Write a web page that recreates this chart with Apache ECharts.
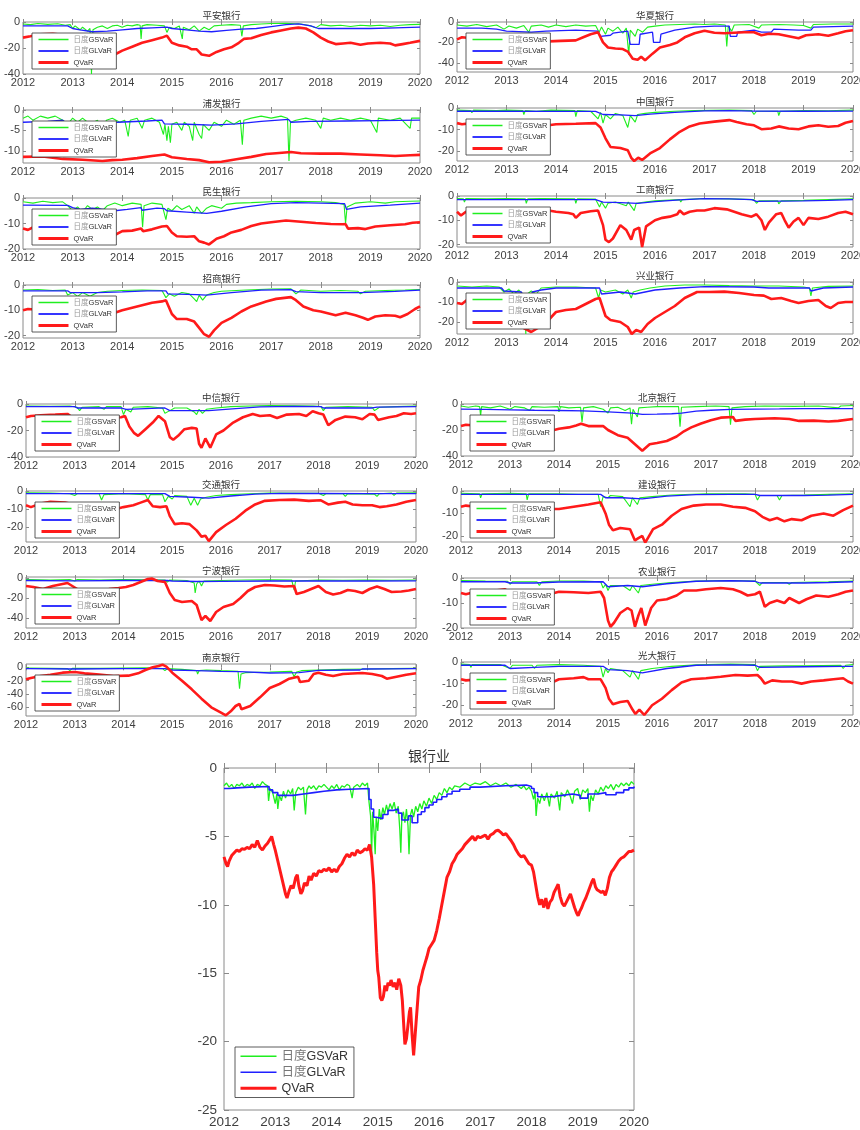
<!DOCTYPE html>
<html><head><meta charset="utf-8">
<script src="https://cdn.jsdelivr.net/npm/echarts@6/dist/echarts.min.js"></script>
<style>html,body{margin:0;padding:0;background:#fff}#c{width:860px;height:1130px}</style>
</head><body><div id="c"></div>
<script>
// ---------------- data (x = year, y = VaR) ----------------
const seriesNames = ['日度GSVaR', '日度GLVaR', 'QVaR'];
const panelNames = ['平安银行','浦发银行','民生银行','招商银行','华夏银行','中国银行','工商银行','兴业银行','中信银行','交通银行','宁波银行','南京银行','北京银行','建设银行','农业银行','光大银行','银行业'];
const yearTicks = [2012,2013,2014,2015,2016,2017,2018,2019,2020];
const yLimits = [[-40,0],[-13,0],[-20,0],[-21,0],[-49,0],[-24.5,0],[-21,0],[-26,0],[-40,0],[-28.5,0],[-50,1],[-73,5],[-40,0],[-22.7,0],[-20,0],[-24.5,0],[-25,0]];
const yTickLabels = [[0,-20,-40],[0,-5,-10],[0,-10,-20],[0,-10,-20],[0,-20,-40],[0,-10,-20],[0,-10,-20],[0,-10,-20],[0,-20,-40],[0,-10,-20],[0,-20,-40],[0,-20,-40,-60],[0,-20,-40],[0,-10,-20],[0,-10,-20],[0,-10,-20],[0,-5,-10,-15,-20,-25]];

const pinganGS = [2012,-1.5, 2012.15,-2, 2012.3,-1.2, 2012.5,-1.8, 2012.7,-1.3, 2012.85,-2.5, 2012.95,-2, 2013.0,-5, 2013.05,-3, 2013.15,-6, 2013.2,-4, 2013.3,-7, 2013.35,-5, 2013.38,-40, 2013.41,-6, 2013.5,-4, 2013.6,-3, 2013.7,-5, 2013.8,-3, 2013.9,-2.5, 2014.0,-4, 2014.1,-2.5, 2014.2,-3, 2014.3,-2, 2014.36,-2.5, 2014.38,-13, 2014.4,-3, 2014.5,-2, 2014.7,-2.5, 2014.85,-3, 2014.9,-8, 2014.95,-4, 2015.05,-5, 2015.15,-3, 2015.19,-4, 2015.21,-13, 2015.23,-4, 2015.35,-6, 2015.45,-3, 2015.55,-7, 2015.65,-4, 2015.75,-6, 2015.85,-3, 2016.0,-2.5, 2016.2,-2, 2016.38,-2.5, 2016.41,-11, 2016.44,-3, 2016.6,-2, 2016.8,-1.5, 2017.0,-1.2, 2017.3,-1, 2017.6,-1.5, 2017.8,-3, 2017.9,-4.5, 2018.0,-2, 2018.2,-3, 2018.4,-2.5, 2018.6,-3.5, 2018.8,-2.5, 2019.0,-3, 2019.2,-2.5, 2019.4,-3.5, 2019.6,-2.5, 2019.8,-2, 2020,-1.8];
const pinganGL = [2012,-3, 2012.9,-3, 2013.0,-5, 2013.15,-6, 2013.4,-7.5, 2013.7,-7, 2014.0,-6, 2014.3,-5, 2014.6,-4.5, 2014.9,-4, 2015.0,-5, 2015.3,-6, 2015.55,-7, 2015.8,-7.5, 2016.1,-6.5, 2016.4,-5.5, 2016.42,-6.5, 2016.7,-5, 2017.0,-3.5, 2017.3,-2, 2017.55,-1.5, 2017.8,-3, 2017.95,-5, 2018.5,-5, 2019.0,-5, 2019.5,-4.5, 2020,-4];
const pinganQ = [2012,-12, 2012.15,-11, 2012.35,-9.5, 2012.6,-9, 2012.85,-10, 2013.0,-11, 2013.3,-16, 2013.6,-23, 2013.85,-25, 2014.0,-22, 2014.2,-19, 2014.4,-16, 2014.6,-14, 2014.8,-12, 2014.9,-10.5, 2015.0,-16, 2015.15,-18, 2015.3,-19, 2015.4,-21, 2015.5,-21, 2015.6,-25, 2015.75,-26, 2015.9,-23, 2016.05,-21, 2016.2,-19.5, 2016.35,-16, 2016.45,-13, 2016.6,-12.5, 2016.8,-10, 2017.0,-8, 2017.2,-6.5, 2017.4,-5, 2017.55,-4.3, 2017.7,-5, 2017.85,-8, 2018.0,-12, 2018.15,-15, 2018.3,-17, 2018.45,-16.5, 2018.6,-16, 2018.8,-17.5, 2018.95,-16.5, 2019.2,-16, 2019.4,-16.5, 2019.5,-18, 2019.65,-17, 2019.8,-16, 2020,-14.5];

const pufaGS = [2012,-2, 2012.1,-1.5, 2012.2,-2.5, 2012.35,-1.5, 2012.5,-2, 2012.65,-1.5, 2012.8,-2.5, 2012.9,-3.5, 2013.0,-2, 2013.1,-3, 2013.2,-2, 2013.35,-3.5, 2013.5,-2.5, 2013.62,-5, 2013.68,-2.5, 2013.8,-2, 2013.95,-3, 2014.05,-2.5, 2014.12,-6.5, 2014.16,-2.5, 2014.3,-2, 2014.4,-4.5, 2014.45,-2.5, 2014.6,-2, 2014.75,-3, 2014.83,-6, 2014.86,-3.5, 2014.9,-7.5, 2014.93,-4, 2014.97,-8, 2015.0,-3.5, 2015.1,-3, 2015.2,-5, 2015.25,-3, 2015.35,-4, 2015.42,-7.5, 2015.45,-3, 2015.55,-6, 2015.6,-7, 2015.63,-3.5, 2015.75,-5, 2015.85,-3, 2016.0,-4, 2016.1,-2.5, 2016.25,-3.5, 2016.38,-2.5, 2016.42,-8.5, 2016.45,-2.5, 2016.6,-2, 2016.8,-1.5, 2017.0,-2, 2017.2,-1.5, 2017.33,-2, 2017.36,-12.5, 2017.39,-3, 2017.5,-2.5, 2017.7,-2, 2017.9,-2.5, 2018.0,-4.5, 2018.05,-2, 2018.2,-2.5, 2018.4,-2, 2018.6,-2.5, 2018.8,-2, 2019.0,-2.5, 2019.13,-5.5, 2019.16,-2, 2019.4,-2.5, 2019.6,-2, 2019.8,-4.5, 2019.83,-2, 2020,-2];
const pufaGL = [2012,-3, 2012.5,-2.8, 2012.8,-2.5, 2012.85,-3, 2013.5,-3.2, 2013.9,-3, 2014.5,-2.7, 2014.8,-2.5, 2014.85,-3.4, 2015.3,-3.5, 2015.8,-3.7, 2016.3,-3.4, 2016.8,-2.8, 2017.35,-2.3, 2017.4,-3, 2017.8,-2.8, 2018.5,-2.7, 2019.2,-2.6, 2020,-2.5];
const pufaQ = [2012,-11.5, 2012.4,-11.4, 2012.8,-12, 2013.2,-12.2, 2013.6,-12.5, 2013.8,-12.3, 2014.0,-12.2, 2014.3,-11.8, 2014.6,-11.3, 2014.85,-10.9, 2015.0,-11.6, 2015.3,-12, 2015.55,-12.3, 2015.75,-12.8, 2016.0,-12.7, 2016.3,-12.1, 2016.6,-11.5, 2016.9,-10.8, 2017.1,-10.6, 2017.4,-10.3, 2017.6,-10.6, 2018.0,-10.7, 2018.4,-10.7, 2018.8,-10.9, 2019.2,-11.1, 2019.5,-11.3, 2019.8,-11.1, 2020,-11];

const minshengGS = [2012,-1.5, 2012.2,-2, 2012.4,-1.3, 2012.6,-1.8, 2012.8,-1.5, 2012.9,-3, 2013.0,-5, 2013.1,-3.5, 2013.2,-5.5, 2013.3,-3, 2013.4,-4.5, 2013.5,-3.5, 2013.6,-5, 2013.7,-3, 2013.85,-2, 2014.0,-3, 2014.2,-2, 2014.38,-2.5, 2014.41,-11.5, 2014.44,-3, 2014.6,-2, 2014.8,-2.5, 2014.88,-8.5, 2014.92,-4, 2015.0,-5, 2015.1,-3, 2015.2,-4.5, 2015.35,-3, 2015.45,-6, 2015.5,-3.5, 2015.6,-6, 2015.7,-4, 2015.8,-3, 2016.0,-4, 2016.1,-2.5, 2016.3,-2, 2016.6,-1.8, 2017.0,-1.5, 2017.5,-1.3, 2018.0,-1.5, 2018.3,-1.8, 2018.47,-2.5, 2018.5,-10, 2018.53,-3.5, 2018.7,-2, 2019.0,-1.5, 2019.3,-2, 2019.5,-1.5, 2019.8,-1.3, 2020,-1.2];
const minshengGL = [2012,-2.8, 2012.9,-2.9, 2013.0,-3.8, 2013.15,-4.5, 2013.4,-4, 2013.85,-5, 2014.1,-4.5, 2014.38,-3.8, 2014.4,-4.8, 2014.7,-4, 2014.85,-4.2, 2014.9,-5, 2015.3,-5.5, 2015.7,-6, 2016.0,-5.2, 2016.5,-3.5, 2017.0,-2.2, 2017.5,-1.8, 2018.0,-2, 2018.48,-2.2, 2018.52,-4.5, 2018.8,-3.5, 2019.4,-2.8, 2020,-2];
const minshengQ = [2012,-12, 2012.1,-12.5, 2012.2,-11.5, 2012.5,-11.5, 2012.9,-12.5, 2013.3,-13.5, 2013.6,-14, 2013.85,-14.5, 2014.0,-13, 2014.2,-12.8, 2014.38,-12, 2014.42,-13, 2014.6,-12.3, 2014.8,-11.2, 2014.9,-11, 2015.0,-13.5, 2015.1,-15, 2015.3,-15.2, 2015.45,-15, 2015.55,-17, 2015.65,-17.5, 2015.75,-18.2, 2015.9,-16, 2016.05,-15, 2016.2,-13.5, 2016.4,-12.5, 2016.6,-11, 2016.8,-10, 2017.0,-9.5, 2017.3,-8.8, 2017.6,-9.3, 2017.9,-9.8, 2018.2,-10.2, 2018.45,-10.3, 2018.5,-10.2, 2018.55,-12, 2018.75,-11.8, 2018.9,-12.2, 2019.1,-11.2, 2019.4,-10.7, 2019.7,-10.3, 2019.85,-9.7, 2020,-9.5];

const zhaoshangGS = [2012,-2, 2012.3,-1.8, 2012.6,-2.2, 2012.85,-2, 2012.9,-4, 2013.0,-3, 2013.1,-4.5, 2013.2,-3, 2013.35,-4.5, 2013.5,-3, 2013.7,-2.5, 2014.0,-2.2, 2014.4,-2, 2014.8,-2.2, 2014.88,-5, 2014.95,-3.5, 2015.05,-4.5, 2015.2,-3, 2015.35,-3.5, 2015.45,-5.5, 2015.5,-6.6, 2015.55,-4, 2015.62,-6, 2015.7,-4, 2015.85,-3, 2016.0,-2.5, 2016.5,-2, 2017.0,-1.6, 2017.4,-1.5, 2017.5,-3.5, 2017.6,-2, 2018.0,-2.5, 2018.4,-2.2, 2018.75,-2.5, 2018.8,-3.5, 2018.9,-2.5, 2019.3,-2.2, 2019.7,-2, 2020,-1.8];
const zhaoshangGL = [2012,-2.3, 2012.9,-2.3, 2012.95,-3, 2013.5,-3, 2014.0,-2.7, 2014.5,-2.3, 2014.88,-2.3, 2014.92,-3.5, 2015.5,-3.8, 2015.7,-4, 2016.2,-3, 2016.8,-2, 2017.4,-1.8, 2017.5,-2.6, 2018.0,-3, 2018.8,-3, 2019.5,-2.5, 2020,-2];
const zhaoshangQ = [2012,-10, 2012.1,-9.5, 2012.3,-9.8, 2012.7,-10.5, 2013.1,-11, 2013.5,-11.2, 2013.85,-11, 2014.0,-10, 2014.2,-9, 2014.4,-8, 2014.6,-7, 2014.8,-6.5, 2014.88,-6, 2015.0,-11.5, 2015.1,-13.5, 2015.3,-13.5, 2015.45,-14.5, 2015.55,-17, 2015.65,-19.5, 2015.75,-20.5, 2015.85,-18, 2016.0,-15, 2016.2,-13, 2016.4,-10.5, 2016.6,-8.5, 2016.9,-6.5, 2017.1,-5.5, 2017.4,-4.8, 2017.5,-6, 2017.65,-8.5, 2017.85,-10, 2018.0,-10.5, 2018.2,-11.5, 2018.3,-12, 2018.5,-11, 2018.7,-12, 2018.85,-13, 2018.95,-13.8, 2019.1,-12.5, 2019.3,-12, 2019.5,-12.2, 2019.6,-12.8, 2019.75,-11.5, 2019.9,-9.5, 2020,-8.5];

const huaxiaGS = [2012,-3, 2012.2,-4, 2012.4,-2.5, 2012.6,-4.5, 2012.8,-3, 2012.95,-7, 2013.05,-4, 2013.2,-6, 2013.35,-3.5, 2013.45,-10, 2013.5,-4, 2013.7,-3, 2013.85,-5, 2014.0,-3, 2014.2,-4.5, 2014.4,-3, 2014.6,-4, 2014.8,-3.5, 2014.87,-10, 2014.92,-5, 2015.0,-12, 2015.05,-6, 2015.15,-9, 2015.25,-5, 2015.35,-11, 2015.42,-6, 2015.47,-32, 2015.5,-8, 2015.6,-14, 2015.65,-7, 2015.75,-10, 2015.85,-5, 2016.0,-4, 2016.2,-3, 2016.5,-2.5, 2016.8,-2, 2017.0,-2.5, 2017.2,-2, 2017.42,-3, 2017.45,-24, 2017.48,-4, 2017.55,-9, 2017.6,-3, 2017.9,-2.5, 2018.1,-6, 2018.15,-3, 2018.5,-2.5, 2018.8,-3, 2019.0,-3.5, 2019.15,-6, 2019.2,-2.5, 2019.6,-2, 2020,-2];
const huaxiaGL = [2012,-6, 2012.5,-6, 2012.8,-7, 2013.0,-9, 2013.5,-10, 2013.8,-9, 2014.4,-8, 2014.85,-9, 2014.9,-14, 2015.1,-13, 2015.15,-11, 2015.45,-9, 2015.5,-22, 2015.68,-22, 2015.7,-12, 2015.95,-10, 2015.97,-20, 2016.1,-20, 2016.12,-12, 2016.4,-8, 2016.8,-5, 2017.2,-4, 2017.5,-4, 2017.52,-14, 2017.65,-14, 2017.67,-10, 2018.0,-8, 2018.15,-10, 2018.35,-10, 2018.4,-7, 2018.9,-8, 2019.15,-8, 2019.2,-5, 2019.6,-4.5, 2020,-4];
const huaxiaQ = [2012,-17, 2012.1,-15, 2012.3,-16, 2012.6,-18, 2012.9,-19, 2013.3,-20, 2013.7,-19.5, 2013.85,-19, 2014.1,-18.5, 2014.4,-18, 2014.55,-15, 2014.7,-12, 2014.85,-10, 2014.95,-20, 2015.05,-25, 2015.2,-26, 2015.35,-26.5, 2015.45,-29, 2015.55,-36, 2015.65,-37, 2015.72,-34, 2015.8,-37.5, 2015.95,-31, 2016.1,-25, 2016.3,-22.5, 2016.45,-20, 2016.6,-15, 2016.8,-11, 2017.0,-8.5, 2017.2,-10.5, 2017.4,-11, 2017.6,-10.5, 2017.8,-10, 2018.0,-10, 2018.15,-13, 2018.3,-11.5, 2018.5,-12, 2018.7,-14, 2018.9,-16, 2019.05,-13, 2019.3,-12, 2019.5,-13.5, 2019.7,-11, 2019.85,-9, 2020,-8];

const zhongguoGS = [2012,-1, 2012.28,-1.2, 2012.3,-2.2, 2012.33,-1, 2012.8,-1.2, 2013.0,-1, 2013.33,-1.2, 2013.35,-3, 2013.38,-1.2, 2013.6,-1.5, 2013.9,-1, 2014.38,-1.2, 2014.4,-4, 2014.43,-1.2, 2014.7,-1.5, 2014.85,-5, 2014.9,-2, 2014.95,-7, 2015.0,-3, 2015.1,-5, 2015.2,-2.5, 2015.35,-3.5, 2015.45,-9, 2015.5,-3.5, 2015.6,-6.5, 2015.65,-3, 2015.8,-2.5, 2016.0,-2, 2016.4,-1.5, 2016.8,-1.2, 2017.5,-1, 2017.95,-1.2, 2018.0,-3, 2018.05,-1.5, 2018.48,-1.5, 2018.5,-3.5, 2018.53,-1.5, 2019.0,-1.2, 2019.5,-1.3, 2020,-1];
const zhongguoGL = [2012,-1.5, 2014.5,-1.6, 2014.8,-1.6, 2014.95,-3, 2015.3,-3.2, 2015.6,-3.5, 2015.9,-2.8, 2016.4,-2, 2017.0,-1.3, 2017.5,-1.2, 2018.0,-1.4, 2019.0,-1.5, 2020,-1.4];
const zhongguoQ = [2012,-7, 2012.1,-7.5, 2012.3,-7, 2012.8,-7.5, 2013.3,-8, 2013.85,-8, 2014.0,-7.5, 2014.4,-7.3, 2014.8,-7, 2014.9,-9, 2015.0,-14, 2015.1,-18, 2015.3,-18.5, 2015.45,-19.5, 2015.52,-23, 2015.58,-24.5, 2015.66,-23, 2015.74,-24, 2015.9,-21, 2016.1,-18.5, 2016.3,-14.5, 2016.5,-11, 2016.7,-8.5, 2016.9,-7.2, 2017.2,-6.3, 2017.5,-5.6, 2017.65,-6.5, 2017.85,-7.5, 2018.0,-8, 2018.15,-9.8, 2018.35,-9.5, 2018.5,-8.5, 2018.7,-9.5, 2018.9,-9.8, 2019.1,-8.5, 2019.3,-8, 2019.5,-8.7, 2019.7,-8.3, 2019.85,-6.8, 2020,-6];

const gongshangGS = [2012,-1, 2012.13,-1.2, 2012.15,-2.5, 2012.18,-1, 2012.6,-1.2, 2013.0,-1, 2013.38,-1.2, 2013.4,-3, 2013.43,-1.2, 2013.7,-1, 2014.38,-1.2, 2014.4,-3, 2014.43,-1.2, 2014.8,-1.3, 2014.88,-4.5, 2014.92,-2.5, 2015.0,-5, 2015.05,-3, 2015.2,-2.5, 2015.42,-4, 2015.46,-2.5, 2015.58,-6, 2015.62,-3, 2015.8,-2.5, 2016.0,-2, 2016.5,-1.5, 2016.52,-2.5, 2016.55,-1.5, 2017.0,-1, 2017.5,-1.2, 2018.0,-1.5, 2018.05,-3, 2018.1,-2, 2018.48,-2, 2018.5,-3.2, 2018.55,-2, 2019.0,-1.8, 2019.5,-1.5, 2020,-1.2];
const gongshangGL = [2012,-1.5, 2014.8,-1.5, 2014.95,-2.5, 2015.3,-2.7, 2015.65,-3, 2016.0,-2.3, 2016.5,-1.6, 2017.0,-1.1, 2017.5,-1.2, 2017.95,-1.5, 2018.05,-2.2, 2019.0,-2, 2019.5,-1.8, 2020,-1.5];
const gongshangQ = [2012,-6.5, 2012.08,-8, 2012.18,-6.5, 2012.5,-6, 2013.0,-6.5, 2013.5,-6.2, 2013.85,-6, 2014.0,-6.5, 2014.25,-7, 2014.35,-7.5, 2014.4,-9, 2014.5,-7, 2014.7,-6.3, 2014.85,-6, 2014.95,-12, 2015.0,-18, 2015.07,-19, 2015.15,-17.5, 2015.3,-12, 2015.42,-14, 2015.52,-18, 2015.58,-14, 2015.68,-13, 2015.74,-21, 2015.82,-12.5, 2016.0,-10, 2016.15,-9, 2016.3,-8.5, 2016.45,-7.5, 2016.5,-6, 2016.58,-7.5, 2016.7,-6.5, 2016.85,-6, 2017.0,-6, 2017.2,-5, 2017.45,-5.5, 2017.6,-6.5, 2017.75,-7.5, 2017.95,-8.5, 2018.05,-7.5, 2018.15,-10, 2018.22,-14, 2018.3,-11, 2018.45,-7.5, 2018.55,-7, 2018.62,-10, 2018.7,-13, 2018.8,-10.5, 2018.9,-9, 2019.0,-12, 2019.1,-9, 2019.3,-9.5, 2019.5,-8.5, 2019.7,-7, 2019.85,-6.5, 2020,-7.5];

const xingyeGS = [2012,-2, 2012.3,-2.5, 2012.6,-2, 2012.85,-2.5, 2012.95,-5, 2013.05,-3.5, 2013.15,-6, 2013.25,-4, 2013.36,-7, 2013.39,-26, 2013.42,-6, 2013.5,-4.5, 2013.6,-6, 2013.7,-3, 2014.0,-2.5, 2014.4,-2.5, 2014.8,-3, 2014.86,-8, 2014.9,-4, 2015.0,-5, 2015.2,-4, 2015.35,-6, 2015.45,-4, 2015.52,-8, 2015.56,-5, 2015.7,-4, 2015.9,-3, 2016.2,-2, 2016.6,-1.5, 2017.0,-1.5, 2017.5,-1.8, 2018.0,-2, 2018.5,-2, 2019.0,-2.5, 2019.12,-3, 2019.15,-7, 2019.18,-3, 2019.5,-2.2, 2020,-2];
const xingyeGL = [2012,-3, 2012.9,-3, 2012.95,-4.5, 2013.3,-5, 2013.35,-7, 2013.5,-7, 2013.52,-5, 2013.7,-4, 2014.0,-3, 2014.88,-3, 2014.92,-6, 2015.3,-5, 2015.6,-6, 2015.8,-5, 2016.0,-4, 2016.5,-3, 2017.0,-2.3, 2018.0,-2.5, 2018.3,-3, 2019.0,-3, 2019.12,-3, 2019.15,-4.5, 2019.4,-3, 2020,-2.5];
const xingyeQ = [2012,-10.5, 2012.1,-11, 2012.2,-9, 2012.5,-12, 2012.9,-16, 2013.2,-21, 2013.5,-25, 2013.7,-22, 2013.85,-19, 2014.0,-15, 2014.2,-14, 2014.4,-13.5, 2014.6,-11, 2014.8,-8.5, 2014.88,-8, 2015.0,-17, 2015.1,-19, 2015.3,-20, 2015.45,-22.5, 2015.53,-26, 2015.62,-24, 2015.72,-25, 2015.85,-21, 2016.0,-18, 2016.2,-15, 2016.4,-12, 2016.6,-8, 2016.85,-5, 2017.1,-5, 2017.4,-4.8, 2017.7,-5.5, 2018.0,-6.5, 2018.2,-6.8, 2018.35,-8.5, 2018.55,-8, 2018.75,-9.5, 2018.9,-10.5, 2019.1,-9.5, 2019.3,-9, 2019.45,-12, 2019.55,-13, 2019.7,-10.5, 2019.85,-10, 2020,-10];

const zhongxinGS = [2012,-1.5, 2012.5,-1.8, 2012.9,-1.5, 2013.05,-2.5, 2013.1,-5, 2013.15,-2.5, 2013.5,-2, 2013.6,-4, 2013.65,-2, 2013.95,-2, 2014.0,-8, 2014.05,-4, 2014.15,-6, 2014.2,-2.5, 2014.5,-2, 2014.8,-3, 2014.85,-7, 2014.95,-5, 2015.05,-3, 2015.3,-3, 2015.45,-6, 2015.5,-8, 2015.55,-4, 2015.62,-7, 2015.7,-4, 2015.9,-3, 2016.2,-2, 2016.6,-1.5, 2017.0,-1.2, 2017.5,-1.3, 2017.9,-1.5, 2018.05,-2, 2018.1,-5, 2018.15,-2.5, 2018.6,-2, 2019.1,-2.5, 2019.15,-5, 2019.25,-2.5, 2019.6,-2, 2020,-1.5];
const zhongxinGL = [2012,-2, 2013.0,-2, 2013.05,-3, 2013.95,-3, 2014.05,-4, 2014.85,-3, 2014.95,-5, 2015.5,-5, 2015.75,-5, 2016.3,-3.5, 2016.8,-2.2, 2017.5,-1.8, 2018.05,-2, 2018.1,-3, 2019.1,-3, 2019.2,-2.3, 2020,-2];
const zhongxinQ = [2012,-10, 2012.1,-9, 2012.3,-8.5, 2012.6,-8, 2012.85,-7.5, 2012.95,-10, 2013.3,-10, 2013.6,-10.5, 2013.95,-10, 2014.03,-9, 2014.12,-17, 2014.22,-22, 2014.3,-24, 2014.45,-19, 2014.6,-14, 2014.72,-9, 2014.85,-13, 2014.95,-25, 2015.02,-27, 2015.12,-24, 2015.25,-19, 2015.4,-18, 2015.5,-18.5, 2015.55,-30, 2015.6,-33, 2015.68,-26, 2015.78,-33, 2015.9,-23, 2016.05,-20, 2016.25,-14, 2016.45,-10, 2016.65,-7.5, 2016.8,-9, 2017.0,-8.5, 2017.15,-10.5, 2017.35,-8, 2017.6,-7.5, 2017.75,-9, 2017.88,-5.5, 2018.0,-7, 2018.1,-8, 2018.2,-16, 2018.35,-12, 2018.55,-9.5, 2018.75,-10, 2018.9,-11.5, 2019.05,-7.5, 2019.15,-8, 2019.22,-12, 2019.45,-10, 2019.6,-9, 2019.75,-7, 2019.9,-7.5, 2020,-7];

const jiaotongGS = [2012,-1, 2012.5,-1.2, 2012.9,-1.5, 2013.0,-2.5, 2013.05,-1.5, 2013.5,-1.5, 2013.55,-5, 2013.6,-2, 2014.0,-1.5, 2014.45,-2, 2014.5,-5, 2014.55,-2, 2014.8,-2, 2014.85,-6, 2014.92,-3, 2015.0,-4.5, 2015.05,-2.5, 2015.3,-3, 2015.38,-8, 2015.45,-4, 2015.52,-8, 2015.58,-4.5, 2015.7,-3.5, 2015.9,-2.5, 2016.2,-2, 2016.6,-1.5, 2017.0,-1.2, 2018.0,-1.3, 2018.1,-2.5, 2018.15,-1.5, 2018.5,-1.5, 2018.55,-3, 2018.6,-1.5, 2019.15,-1.8, 2019.2,-3, 2019.25,-1.5, 2019.5,-1.2, 2019.55,-2.5, 2019.6,-1.2, 2020,-1];
const jiaotongGL = [2012,-1.5, 2014.85,-1.5, 2014.95,-3, 2015.4,-3.5, 2015.75,-4, 2016.2,-2.8, 2016.7,-1.8, 2017.2,-1.3, 2018.0,-1.4, 2019.0,-1.5, 2020,-1.5];
const jiaotongQ = [2012,-8, 2012.1,-9, 2012.3,-7, 2012.5,-6, 2012.8,-6.5, 2012.9,-7, 2013.3,-9, 2013.6,-10, 2013.85,-10, 2014.0,-9, 2014.2,-8, 2014.35,-6.5, 2014.5,-5, 2014.6,-8.5, 2014.75,-9, 2014.88,-8.5, 2014.95,-14, 2015.05,-18.5, 2015.2,-18, 2015.35,-18.5, 2015.5,-22, 2015.6,-25.5, 2015.68,-25, 2015.75,-28, 2015.9,-23, 2016.1,-19, 2016.3,-15.5, 2016.5,-11, 2016.7,-7.5, 2016.9,-5.5, 2017.2,-5, 2017.5,-4.8, 2017.8,-5.5, 2018.05,-5.2, 2018.2,-7.5, 2018.4,-6.5, 2018.55,-6, 2018.7,-7.5, 2018.9,-8, 2019.1,-8, 2019.25,-9, 2019.4,-8.5, 2019.6,-7.5, 2019.8,-6, 2020,-5];

const ningboGS = [2012,-1.5, 2012.5,-2, 2012.9,-1.5, 2013.0,-3, 2013.05,-1.5, 2013.5,-2, 2014.0,-1.5, 2014.5,-1.8, 2014.85,-2, 2014.9,-4, 2014.95,-2, 2015.3,-2.5, 2015.45,-5, 2015.47,-15, 2015.5,-6, 2015.55,-3, 2015.6,-8, 2015.65,-3, 2016.0,-2.5, 2016.5,-2, 2017.0,-1.8, 2017.45,-2, 2017.5,-12, 2017.53,-3, 2018.0,-2, 2018.5,-2.2, 2019.0,-2, 2019.5,-2.2, 2020,-2];
const ningboGL = [2012,-2.5, 2013.0,-2.8, 2014.0,-2.5, 2014.9,-2.5, 2015.0,-3, 2015.5,-3.5, 2016.0,-3.3, 2017.0,-3, 2018.0,-3, 2019.0,-3, 2020,-2.8];
const ningboQ = [2012,-8, 2012.15,-9, 2012.35,-11, 2012.55,-8, 2012.75,-6, 2012.85,-5, 2012.95,-8, 2013.05,-11, 2013.4,-12, 2013.7,-11, 2013.9,-10, 2014.05,-9, 2014.2,-7, 2014.35,-4, 2014.5,-1, 2014.58,-0.5, 2014.7,-3, 2014.85,-4, 2014.95,-15, 2015.05,-22, 2015.2,-24, 2015.4,-23, 2015.5,-27, 2015.6,-42, 2015.68,-38, 2015.78,-43, 2015.9,-34, 2016.05,-29, 2016.25,-26, 2016.4,-20, 2016.55,-13, 2016.7,-9, 2016.9,-7, 2017.1,-7.5, 2017.3,-8.5, 2017.5,-8, 2017.55,-16, 2017.7,-14, 2017.85,-11, 2018.0,-8, 2018.15,-14, 2018.3,-16.5, 2018.45,-15, 2018.6,-12, 2018.75,-13, 2018.9,-15, 2019.05,-11, 2019.2,-8.5, 2019.35,-11, 2019.5,-14, 2019.7,-13.5, 2019.85,-12.5, 2020,-11];

const nanjingGS = [2012,-1, 2012.5,-1.5, 2012.85,-2, 2012.9,-5, 2012.95,-1.5, 2013.5,-1.5, 2014.0,-1.2, 2014.5,-0.8, 2014.8,-2, 2014.85,-5, 2014.9,-2, 2015.2,-3, 2015.5,-5, 2015.52,-10, 2015.55,-5, 2015.7,-4, 2016.0,-5, 2016.35,-6, 2016.38,-32, 2016.41,-10, 2016.5,-8, 2017.0,-7, 2017.45,-6, 2017.5,-14, 2017.55,-7, 2017.65,-5, 2018.0,-4, 2018.5,-3, 2019.0,-2.5, 2019.5,-2, 2020,-1.5];
const nanjingGL = [2012,-2, 2013.0,-2.5, 2014.0,-2, 2014.85,-2, 2015.0,-4, 2015.5,-5, 2016.0,-6, 2016.38,-6.5, 2016.4,-9, 2017.0,-8.5, 2017.6,-8, 2017.62,-5, 2018.0,-4.5, 2018.85,-4, 2018.9,-2.5, 2019.5,-2.3, 2020,-2];
const nanjingQ = [2012,-18, 2012.1,-16, 2012.3,-13, 2012.5,-11, 2012.75,-8, 2013.0,-7, 2013.2,-9, 2013.5,-11, 2013.8,-13, 2014.1,-12.5, 2014.3,-9, 2014.45,-4, 2014.6,0, 2014.72,2, 2014.8,4, 2014.88,1, 2015.0,-8, 2015.2,-20, 2015.4,-33, 2015.6,-47, 2015.8,-60, 2016.0,-68, 2016.1,-72, 2016.2,-66, 2016.3,-58, 2016.38,-55, 2016.42,-63, 2016.6,-58, 2016.8,-45, 2017.0,-31, 2017.2,-25, 2017.4,-17, 2017.58,-14, 2017.62,-22, 2017.8,-20, 2017.9,-10, 2018.0,-8, 2018.15,-11, 2018.3,-13, 2018.5,-10, 2018.9,-8.5, 2019.1,-10, 2019.3,-13, 2019.4,-17, 2019.6,-14, 2019.8,-11, 2020,-9];

const beijingGS = [2012,-1.5, 2012.15,-2.5, 2012.3,-1.5, 2012.38,-2, 2012.4,-9, 2012.42,-2, 2012.6,-3, 2012.8,-1.5, 2013.0,-4, 2013.1,-2, 2013.3,-3, 2013.4,-5, 2013.45,-2, 2013.7,-2.5, 2013.98,-2, 2014.0,-6, 2014.03,-2, 2014.2,-3, 2014.44,-2.5, 2014.47,-14, 2014.5,-3, 2014.7,-2, 2014.9,-4, 2015.0,-7, 2015.05,-3, 2015.2,-2.5, 2015.35,-5, 2015.45,-3, 2015.48,-15.5, 2015.51,-4, 2015.6,-10, 2015.63,-3, 2015.8,-2.5, 2016.0,-2, 2016.44,-2, 2016.47,-17.5, 2016.5,-2.5, 2016.8,-2, 2017.2,-1.5, 2017.47,-2, 2017.5,-16, 2017.53,-3, 2017.8,-2, 2018.2,-1.5, 2018.8,-1.8, 2019.3,-1.5, 2019.7,-3, 2019.75,-1.5, 2020,-1.2];
const beijingGL = [2012,-4, 2012.5,-4.2, 2013.0,-4.5, 2013.5,-4.8, 2014.0,-5, 2014.5,-5.3, 2015.0,-6, 2015.5,-7, 2015.7,-8, 2016.0,-7.8, 2016.3,-7.5, 2016.5,-7, 2016.8,-5.5, 2017.1,-4.8, 2017.5,-4.2, 2018.0,-4, 2018.5,-3.8, 2019.0,-3.5, 2020,-3.5];
const beijingQ = [2012,-17, 2012.1,-16, 2012.4,-17, 2012.8,-18, 2013.2,-19, 2013.6,-20, 2013.9,-20, 2014.0,-19, 2014.2,-18, 2014.35,-16.5, 2014.45,-15.2, 2014.6,-17, 2014.9,-17, 2015.0,-20, 2015.2,-24, 2015.4,-26, 2015.55,-31, 2015.7,-36, 2015.85,-31, 2016.0,-30, 2016.2,-28.5, 2016.4,-25, 2016.55,-21, 2016.7,-18, 2016.9,-15, 2017.1,-12.5, 2017.3,-10.5, 2017.55,-10, 2017.6,-13, 2017.8,-12, 2018.0,-11.5, 2018.4,-11, 2018.7,-11.5, 2018.9,-13, 2019.2,-12.8, 2019.5,-13.5, 2019.7,-13, 2020,-11.5];

const jiansheGS = [2012,-1, 2012.38,-1.3, 2012.4,-3, 2012.43,-1.2, 2013.0,-1, 2013.33,-1.2, 2013.35,-4, 2013.38,-1.3, 2014.0,-1.2, 2014.4,-1.5, 2014.8,-1.5, 2014.85,-7, 2014.9,-2.5, 2015.0,-3, 2015.05,-2, 2015.3,-2.5, 2015.45,-7, 2015.5,-3, 2015.6,-6, 2015.65,-3, 2015.9,-2.5, 2016.3,-1.8, 2017.0,-1.2, 2017.8,-1.3, 2018.0,-1.5, 2018.05,-4, 2018.1,-2, 2018.45,-2, 2018.5,-4, 2018.55,-2, 2019.0,-1.8, 2019.5,-1.5, 2020,-1.2];
const jiansheGL = [2012,-1.5, 2014.85,-1.5, 2014.95,-3, 2015.3,-3, 2015.7,-3.5, 2016.2,-2.3, 2016.8,-1.6, 2017.5,-1.5, 2018.0,-1.5, 2018.1,-2, 2019.0,-2, 2019.5,-1.8, 2020,-1.5];
const jiansheQ = [2012,-7, 2012.1,-6.5, 2012.3,-7, 2012.8,-7.5, 2013.3,-8, 2013.9,-8, 2014.0,-8, 2014.3,-7, 2014.6,-6, 2014.85,-5, 2014.95,-10, 2015.02,-15, 2015.1,-17.5, 2015.25,-16.5, 2015.45,-17, 2015.55,-22, 2015.62,-21, 2015.7,-20, 2015.76,-23, 2015.92,-17, 2016.1,-15, 2016.3,-11, 2016.5,-8, 2016.75,-6.5, 2017.0,-6, 2017.3,-6, 2017.55,-7, 2017.8,-7.5, 2018.0,-9, 2018.15,-11.5, 2018.3,-13, 2018.45,-12, 2018.6,-13.5, 2018.75,-12.5, 2018.95,-13, 2019.15,-11, 2019.4,-10, 2019.6,-11, 2019.8,-8.5, 2020,-6.5];

const nongyeGS = [2012,-1, 2012.5,-1.2, 2012.95,-1.3, 2013.0,-2.5, 2013.05,-1.5, 2013.55,-1.5, 2013.6,-3, 2013.65,-1.5, 2014.0,-1.2, 2014.5,-1.2, 2014.85,-1.5, 2014.9,-4, 2014.95,-2.5, 2015.0,-5, 2015.05,-3, 2015.3,-3, 2015.45,-5, 2015.5,-3, 2015.62,-6, 2015.67,-3, 2015.9,-2.5, 2016.3,-1.8, 2016.8,-1.2, 2017.5,-1, 2018.0,-1.2, 2018.1,-3, 2018.15,-1.8, 2018.65,-1.8, 2018.7,-2.5, 2018.75,-1.8, 2019.5,-1.5, 2020,-1.2];
const nongyeGL = [2012,-1.5, 2012.9,-1.5, 2013.0,-2, 2013.5,-2, 2014.0,-1.6, 2014.9,-1.5, 2015.0,-3.5, 2015.4,-3, 2015.7,-3.5, 2016.2,-2.3, 2016.8,-1.3, 2017.5,-1.1, 2018.0,-1.3, 2018.1,-2, 2019.0,-2, 2019.5,-1.8, 2020,-1.5];
const nongyeQ = [2012,-6, 2012.1,-6.5, 2012.3,-5.5, 2012.7,-5, 2012.9,-4.5, 2013.0,-6, 2013.5,-6.5, 2013.9,-6, 2014.0,-5.5, 2014.3,-5.7, 2014.6,-6, 2014.85,-5.5, 2014.92,-8, 2015.0,-17, 2015.05,-19.5, 2015.12,-18, 2015.25,-14, 2015.4,-12, 2015.48,-13, 2015.55,-19.5, 2015.62,-15, 2015.68,-12, 2015.76,-19, 2015.88,-12, 2016.0,-9, 2016.2,-8.5, 2016.4,-7, 2016.55,-5, 2016.8,-5, 2017.0,-4.5, 2017.3,-4, 2017.55,-4.5, 2017.7,-5.5, 2017.85,-7, 2018.0,-6.5, 2018.1,-5.5, 2018.2,-11.5, 2018.3,-10, 2018.45,-9, 2018.6,-10, 2018.7,-8, 2018.9,-10, 2019.05,-8.5, 2019.25,-7, 2019.5,-7.5, 2019.7,-6.5, 2019.85,-5.5, 2020,-5];

const guangdaGS = [2012,-1, 2012.18,-1.2, 2012.2,-2.5, 2012.23,-1.2, 2012.8,-1.2, 2013.0,-3, 2013.05,-1.5, 2013.45,-1.5, 2013.5,-3, 2013.55,-1.5, 2014.0,-1.2, 2014.5,-1.5, 2014.85,-2, 2014.9,-7, 2014.95,-3, 2015.0,-5, 2015.05,-3, 2015.3,-4, 2015.45,-7, 2015.5,-4, 2015.62,-8, 2015.67,-4, 2015.9,-3, 2016.3,-2, 2016.8,-1.3, 2017.5,-1, 2018.0,-1.2, 2018.05,-4, 2018.1,-2, 2018.6,-1.8, 2019.0,-1.8, 2019.75,-1.5, 2019.8,-3, 2019.85,-1.5, 2020,-1.2];
const guangdaGL = [2012,-1.5, 2012.9,-1.5, 2013.0,-3, 2013.5,-2.5, 2014.0,-2, 2014.9,-2, 2015.0,-3.5, 2015.4,-4, 2015.7,-5, 2016.2,-3, 2016.8,-1.5, 2017.5,-1.3, 2018.0,-1.5, 2018.1,-2.5, 2019.0,-2.2, 2019.8,-2, 2020,-2];
const guangdaQ = [2012,-8, 2012.1,-8.5, 2012.4,-8, 2012.8,-8.5, 2013.3,-9, 2013.9,-9, 2014.0,-8, 2014.3,-7.5, 2014.5,-7, 2014.6,-8, 2014.85,-8, 2014.95,-12, 2015.02,-17, 2015.1,-19.5, 2015.25,-18.5, 2015.4,-18, 2015.5,-22, 2015.56,-24, 2015.64,-22, 2015.74,-24.5, 2015.9,-20, 2016.1,-17, 2016.3,-13, 2016.5,-9.5, 2016.7,-8, 2017.0,-7.5, 2017.3,-6.8, 2017.6,-6, 2017.85,-6.3, 2018.05,-6, 2018.12,-7.5, 2018.2,-10, 2018.35,-8.5, 2018.55,-9, 2018.75,-9, 2018.95,-10, 2019.15,-9, 2019.4,-8.5, 2019.6,-8, 2019.8,-7.5, 2019.9,-9, 2020,-10];

const bankGS = [2012,-1.3, 2012.05,-1.1, 2012.1,-1.4, 2012.15,-1.2, 2012.2,-1.5, 2012.25,-1.2, 2012.3,-1.3, 2012.35,-1.1, 2012.4,-1.4, 2012.45,-1.2, 2012.5,-1.3, 2012.55,-1.1, 2012.6,-1.5, 2012.65,-1.2, 2012.7,-1.3, 2012.75,-1.0, 2012.8,-1.2, 2012.85,-1.3, 2012.87,-2.4, 2012.9,-1.5, 2012.95,-1.8, 2013.0,-2.6, 2013.03,-1.9, 2013.05,-3.0, 2013.08,-2.0, 2013.12,-2.4, 2013.16,-1.7, 2013.2,-2.2, 2013.25,-1.6, 2013.3,-1.9, 2013.34,-1.5, 2013.37,-3.1, 2013.4,-1.8, 2013.45,-1.4, 2013.5,-1.6, 2013.55,-1.4, 2013.59,-3.4, 2013.62,-1.6, 2013.66,-1.3, 2013.7,-1.5, 2013.75,-1.3, 2013.8,-1.6, 2013.85,-1.3, 2013.9,-1.4, 2013.95,-1.2, 2014.0,-1.4, 2014.05,-1.6, 2014.1,-1.3, 2014.15,-1.5, 2014.2,-1.2, 2014.25,-1.6, 2014.3,-1.3, 2014.35,-1.4, 2014.4,-1.2, 2014.45,-1.3, 2014.5,-2.2, 2014.53,-1.4, 2014.6,-1.2, 2014.65,-1.4, 2014.7,-1.1, 2014.75,-1.3, 2014.8,-1.1, 2014.83,-2.5, 2014.86,-3.5, 2014.88,-6.4, 2014.9,-3.2, 2014.93,-4.8, 2014.95,-6.3, 2014.97,-3.6, 2015.0,-4.6, 2015.03,-3.0, 2015.06,-3.8, 2015.1,-2.9, 2015.13,-3.4, 2015.17,-2.7, 2015.2,-3.2, 2015.24,-2.6, 2015.28,-3.0, 2015.32,-2.5, 2015.36,-3.3, 2015.4,-2.8, 2015.43,-4.5, 2015.45,-6.2, 2015.47,-3.6, 2015.5,-3.2, 2015.53,-4.0, 2015.56,-3.0, 2015.59,-4.2, 2015.61,-6.3, 2015.64,-3.4, 2015.67,-3.0, 2015.7,-3.6, 2015.74,-2.8, 2015.78,-3.2, 2015.82,-2.6, 2015.86,-3.0, 2015.9,-2.4, 2015.95,-2.8, 2016.0,-2.2, 2016.05,-2.6, 2016.1,-2.0, 2016.15,-2.3, 2016.2,-1.8, 2016.25,-2.0, 2016.3,-1.5, 2016.35,-1.8, 2016.4,-1.4, 2016.45,-1.6, 2016.5,-1.3, 2016.6,-1.4, 2016.7,-1.1, 2016.8,-1.3, 2016.9,-1.1, 2017.0,-1.2, 2017.1,-1.0, 2017.2,-1.3, 2017.3,-1.1, 2017.4,-1.3, 2017.5,-1.1, 2017.6,-1.4, 2017.7,-1.2, 2017.8,-1.5, 2017.85,-1.3, 2017.9,-1.6, 2017.95,-1.4, 2018.0,-1.7, 2018.04,-2.3, 2018.07,-1.8, 2018.09,-3.5, 2018.12,-2.2, 2018.16,-2.6, 2018.2,-1.9, 2018.25,-2.4, 2018.3,-1.8, 2018.35,-2.8, 2018.38,-1.9, 2018.45,-2.2, 2018.5,-1.7, 2018.55,-3.1, 2018.58,-1.8, 2018.65,-2.1, 2018.7,-1.6, 2018.75,-2.0, 2018.8,-2.6, 2018.84,-1.7, 2018.9,-1.5, 2018.95,-2.3, 2019.0,-1.6, 2019.05,-1.8, 2019.1,-1.5, 2019.13,-3.2, 2019.16,-2.0, 2019.2,-2.4, 2019.25,-1.6, 2019.3,-1.9, 2019.35,-1.4, 2019.4,-1.7, 2019.45,-1.3, 2019.5,-1.5, 2019.55,-1.2, 2019.6,-1.6, 2019.65,-1.2, 2019.7,-1.4, 2019.75,-1.1, 2019.8,-1.3, 2019.85,-1.1, 2019.9,-1.3, 2019.95,-1.0, 2020,-1.2];
const bankGL = [2012,-1.5, 2012.1,-1.45, 2012.25,-1.4, 2012.5,-1.35, 2012.88,-1.6, 2012.95,-1.8, 2013.05,-2.0, 2013.35,-1.9, 2013.55,-1.8, 2013.75,-1.7, 2013.95,-1.6, 2014.2,-1.55, 2014.45,-1.5, 2014.83,-2.3, 2014.87,-3.0, 2014.92,-3.6, 2014.97,-3.7, 2015.1,-3.4, 2015.2,-3.1, 2015.3,-3.0, 2015.4,-3.3, 2015.47,-3.8, 2015.6,-3.5, 2015.67,-4.0, 2015.78,-3.4, 2015.85,-3.2, 2015.92,-2.9, 2016.0,-2.7, 2016.08,-2.5, 2016.15,-2.3, 2016.25,-2.1, 2016.35,-1.9, 2016.45,-1.7, 2016.6,-1.55, 2016.8,-1.4, 2017.0,-1.3, 2017.5,-1.25, 2017.9,-1.35, 2018.0,-1.5, 2018.05,-1.8, 2018.12,-2.1, 2018.4,-2.0, 2018.6,-1.9, 2018.8,-2.0, 2018.95,-2.2, 2019.1,-1.9, 2019.3,-1.8, 2019.45,-1.95, 2019.65,-1.8, 2019.8,-1.6, 2019.9,-1.45, 2020,-1.35];
const bankQ = [2012,-6.5, 2012.04,-7.0, 2012.07,-7.2, 2012.1,-6.8, 2012.15,-6.4, 2012.2,-6.2, 2012.25,-6.0, 2012.3,-6.1, 2012.35,-5.9, 2012.4,-5.95, 2012.45,-5.8, 2012.5,-5.9, 2012.55,-5.6, 2012.6,-5.8, 2012.65,-5.3, 2012.7,-5.8, 2012.75,-6.0, 2012.8,-5.7, 2012.85,-5.5, 2012.9,-5.2, 2012.93,-5.0, 2012.97,-5.6, 2013.0,-6.0, 2013.05,-6.8, 2013.1,-7.6, 2013.15,-8.4, 2013.2,-9.2, 2013.23,-9.5, 2013.27,-9.0, 2013.31,-8.6, 2013.35,-8.8, 2013.4,-8.0, 2013.43,-7.8, 2013.46,-8.6, 2013.5,-9.2, 2013.53,-9.0, 2013.57,-8.4, 2013.62,-8.6, 2013.66,-7.9, 2013.7,-8.2, 2013.75,-7.7, 2013.8,-7.9, 2013.85,-7.5, 2013.9,-7.6, 2013.95,-7.4, 2014.0,-7.5, 2014.05,-7.3, 2014.1,-7.6, 2014.15,-7.4, 2014.2,-7.6, 2014.25,-7.2, 2014.3,-7.0, 2014.35,-6.6, 2014.4,-6.3, 2014.45,-6.5, 2014.5,-6.2, 2014.55,-6.4, 2014.6,-6.0, 2014.65,-6.2, 2014.7,-6.1, 2014.75,-5.9, 2014.8,-6.0, 2014.84,-5.6, 2014.88,-6.5, 2014.92,-8.5, 2014.95,-11.0, 2014.98,-13.5, 2015.0,-14.8, 2015.02,-15.3, 2015.05,-16.8, 2015.08,-17.0, 2015.11,-16.7, 2015.14,-15.9, 2015.17,-16.3, 2015.2,-15.7, 2015.23,-15.9, 2015.26,-15.5, 2015.3,-16.0, 2015.34,-15.7, 2015.37,-16.2, 2015.41,-15.4, 2015.45,-15.9, 2015.48,-17.0, 2015.51,-19.0, 2015.53,-20.2, 2015.56,-19.8, 2015.59,-18.8, 2015.62,-17.8, 2015.64,-17.5, 2015.67,-19.5, 2015.7,-21.0, 2015.73,-19.5, 2015.77,-17.5, 2015.8,-16.0, 2015.84,-15.5, 2015.88,-14.8, 2015.92,-14.3, 2015.96,-13.8, 2016.0,-13.2, 2016.05,-12.9, 2016.1,-12.6, 2016.15,-11.9, 2016.2,-11.0, 2016.25,-10.0, 2016.3,-9.0, 2016.35,-8.0, 2016.4,-7.6, 2016.45,-7.0, 2016.5,-6.7, 2016.55,-6.3, 2016.6,-6.1, 2016.65,-5.9, 2016.7,-5.6, 2016.75,-5.4, 2016.8,-5.2, 2016.85,-5.0, 2016.9,-5.3, 2016.95,-5.0, 2017.0,-5.1, 2017.05,-5.0, 2017.1,-4.9, 2017.15,-5.2, 2017.2,-4.9, 2017.25,-4.8, 2017.3,-4.6, 2017.35,-4.55, 2017.4,-4.7, 2017.45,-4.9, 2017.5,-4.8, 2017.55,-5.05, 2017.6,-5.3, 2017.65,-5.6, 2017.7,-6.0, 2017.75,-6.3, 2017.8,-6.5, 2017.85,-6.4, 2017.9,-6.7, 2017.95,-7.0, 2018.0,-7.1, 2018.04,-7.6, 2018.08,-8.5, 2018.12,-9.4, 2018.16,-10.0, 2018.2,-9.6, 2018.24,-10.2, 2018.28,-9.5, 2018.32,-10.3, 2018.36,-9.8, 2018.4,-9.6, 2018.44,-9.1, 2018.48,-8.8, 2018.52,-8.5, 2018.56,-9.4, 2018.6,-9.9, 2018.64,-10.1, 2018.68,-9.8, 2018.72,-9.5, 2018.76,-9.2, 2018.8,-9.7, 2018.84,-10.2, 2018.88,-10.6, 2018.91,-10.8, 2018.94,-10.5, 2018.98,-10.2, 2019.02,-9.8, 2019.06,-9.5, 2019.1,-9.1, 2019.14,-8.7, 2019.18,-8.3, 2019.21,-8.1, 2019.25,-8.7, 2019.28,-8.9, 2019.32,-9.0, 2019.36,-9.1, 2019.4,-9.0, 2019.44,-9.3, 2019.48,-8.8, 2019.52,-8.0, 2019.56,-7.6, 2019.6,-7.4, 2019.65,-7.1, 2019.7,-6.8, 2019.75,-6.6, 2019.8,-6.5, 2019.85,-6.3, 2019.9,-6.1, 2019.95,-6.1, 2020,-6.0];

const gsList = [pinganGS, pufaGS, minshengGS, zhaoshangGS, huaxiaGS, zhongguoGS, gongshangGS, xingyeGS, zhongxinGS, jiaotongGS, ningboGS, nanjingGS, beijingGS, jiansheGS, nongyeGS, guangdaGS, bankGS];
const glList = [pinganGL, pufaGL, minshengGL, zhaoshangGL, huaxiaGL, zhongguoGL, gongshangGL, xingyeGL, zhongxinGL, jiaotongGL, ningboGL, nanjingGL, beijingGL, jiansheGL, nongyeGL, guangdaGL, bankGL];
const qList = [pinganQ, pufaQ, minshengQ, zhaoshangQ, huaxiaQ, zhongguoQ, gongshangQ, xingyeQ, zhongxinQ, jiaotongQ, ningboQ, nanjingQ, beijingQ, jiansheQ, nongyeQ, guangdaQ, bankQ];

// ---------------- layout (plot boxes: left, top, right, bottom) ----------------
const boxes = [
  [23,22,420,74],[23,110,420,163],[23,198,420,249],[23,285,420,338],
  [457,22,853,72],[457,108,853,161],[457,196,853,247],[457,282,853,334],
  [26,404,416,457],[26,491,416,542],[26,577,416,628],[26,664,416,716],
  [461,404,853,456],[461,491,853,542],[461,578,853,628],[461,662,853,715],
  [224,768,634,1110]
];

function xy(a){const o=[];for(let i=0;i<a.length;i+=2)o.push([a[i],a[i+1]]);return o;}

const FONT = '"Liberation Sans", Arial, "Noto Sans CJK SC", sans-serif';
const CJK = '"Noto Sans CJK SC", sans-serif';
const frame = '#8a8a8a';
const txt = '#404040';
const cGreen = '#1fee1f', cBlue = '#1f1fff', cRed = '#ff1a1a';
const legendFmt = n => n.indexOf('日度') === 0 ? '{g|日度}' + n.slice(2) : n;

const option = {animation:false, backgroundColor:'#fff', grid:[], xAxis:[], yAxis:[], series:[], legend:[], graphic:[]};

boxes.forEach((b,i)=>{
  const big = i === boxes.length-1;
  const [l,t,r,bt] = b;
  option.grid.push({left:l, top:t, width:r-l, height:bt-t, show:true, borderColor:frame, borderWidth:1, backgroundColor:'transparent', containLabel:false, outerBoundsMode:'none'});
  const tickLen = big?5:3;
  const xa = {gridIndex:i, type:'value', min:yearTicks[0], max:yearTicks[yearTicks.length-1], interval:1,
    axisLine:{show:false}, splitLine:{show:false},
    axisTick:{show:true, inside:true, length:tickLen, lineStyle:{color:frame}},
    axisLabel:{show:true, color:txt, fontSize:big?13.5:11, fontFamily:FONT, margin:big?6:3, formatter:v=>String(v)}};
  option.xAxis.push(xa);
  option.xAxis.push(Object.assign({}, xa, {position:'top', axisLabel:{show:false}}));
  const [ymin,ymax] = yLimits[i];
  const ticks = yTickLabels[i];
  const ya = {gridIndex:i, type:'value', min:ymin, max:ymax,
    axisLine:{show:false}, splitLine:{show:false},
    axisTick:{show:true, inside:true, length:tickLen, lineStyle:{color:frame}, customValues:ticks},
    axisLabel:{show:true, color:txt, fontSize:big?13.5:11, fontFamily:FONT, margin:big?7:3, customValues:ticks, showMinLabel:true, showMaxLabel:true}};
  option.yAxis.push(ya);
  option.yAxis.push(Object.assign({}, ya, {position:'right', axisLabel:{show:false}}));

  const xi = 2*i;
  option.series.push({type:'line', name:seriesNames[0], xAxisIndex:xi, yAxisIndex:xi, data:xy(gsList[i]), symbol:'none', silent:true,
    lineStyle:{width:big?1.3:1.1, color:cGreen}, itemStyle:{color:cGreen}});
  option.series.push({type:'line', name:seriesNames[1], xAxisIndex:xi, yAxisIndex:xi, data:xy(glList[i]), symbol:'none', silent:true,
    step: big ? 'end' : false, lineStyle:{width:big?1.6:1.3, color:cBlue}, itemStyle:{color:cBlue}});
  option.series.push({type:'line', name:seriesNames[2], xAxisIndex:xi, yAxisIndex:xi, data:xy(qList[i]), symbol:'none', silent:true,
    lineStyle:{width:big?3:2.6, color:cRed}, itemStyle:{color:cRed}});

  const hideSym = {opacity:0, borderWidth:0};
  if (big) {
    option.legend.push({left:235, top:1047, orient:'vertical', selectedMode:false,
      data:[{name:seriesNames[0], lineStyle:{width:1.5, color:cGreen}, itemStyle:hideSym}, {name:seriesNames[1], lineStyle:{width:1.5, color:cBlue}, itemStyle:hideSym}, {name:seriesNames[2], lineStyle:{width:3, color:cRed}, itemStyle:hideSym}],
      itemStyle:hideSym, formatter:legendFmt,
      itemWidth:36, itemHeight:13, itemGap:3.5, padding:[3,6,3,4], backgroundColor:'#fff', borderColor:'#333', borderWidth:0.8, borderRadius:0,
      textStyle:{fontSize:12.5, color:'#333', fontFamily:FONT, rich:{g:{fontSize:12.5, color:'#777', fontFamily:FONT}}}});
    option.graphic.push({type:'text', x:(l+r)/2, y:t-12, z:10, style:{text:panelNames[i], fill:'#333', fontSize:14, fontFamily:CJK, textAlign:'center', textVerticalAlign:'middle', align:'center', verticalAlign:'middle'}});
  } else {
    option.legend.push({left:l+9, top:t+11, orient:'vertical', selectedMode:false,
      data:[{name:seriesNames[0], lineStyle:{width:1.5, color:cGreen}, itemStyle:hideSym}, {name:seriesNames[1], lineStyle:{width:1.8, color:cBlue}, itemStyle:hideSym}, {name:seriesNames[2], lineStyle:{width:3, color:cRed}, itemStyle:hideSym}],
      itemStyle:hideSym, formatter:legendFmt,
      itemWidth:30, itemHeight:9, itemGap:2.5, padding:[2,3,2,5], backgroundColor:'#fff', borderColor:'#333', borderWidth:0.8, borderRadius:0,
      textStyle:{fontSize:7.5, lineHeight:9, color:'#333', fontFamily:FONT, rich:{g:{fontSize:7.5, lineHeight:9, color:'#9a9a9a', fontFamily:FONT}}}});
    option.graphic.push({type:'text', x:(l+r)/2, y:t-7, z:10, style:{text:panelNames[i], fill:'#333', fontSize:9.5, fontFamily:CJK, textAlign:'center', textVerticalAlign:'middle', align:'center', verticalAlign:'middle'}});
  }
});

const chart = echarts.init(document.getElementById('c'), null, {renderer:'canvas'});
chart.setOption(option);
</script></body></html>
